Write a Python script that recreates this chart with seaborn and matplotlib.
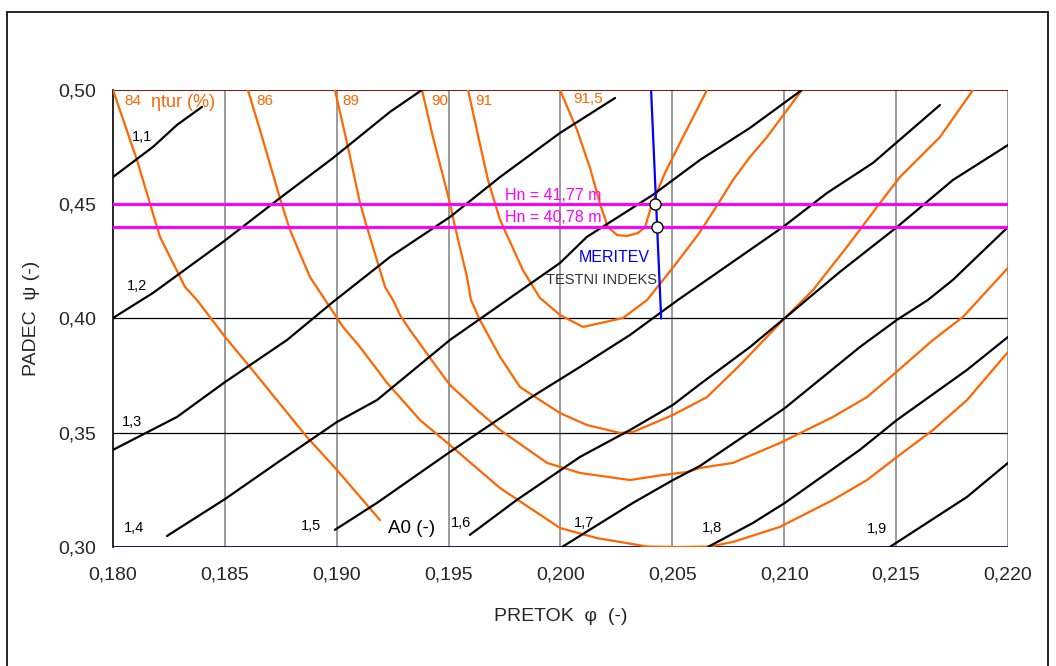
import matplotlib
matplotlib.use("Agg")
import matplotlib.pyplot as plt
import seaborn as sns
from matplotlib.lines import Line2D

# -------------- datos (pretok phi, padec psi)

# lineas de izkoristek turbine (naranja)
eta_84_phi = [0.18000, 0.18107, 0.18210, 0.18322, 0.18375, 0.18501, 0.18612, 0.18867, 0.19001, 0.19193]
eta_84_psi = [0.5000, 0.4694, 0.4357, 0.4138, 0.4081, 0.3919, 0.3788, 0.3481, 0.3337, 0.3118]

eta_86_phi = [0.18603, 0.18657, 0.18746, 0.18791, 0.18880, 0.19028, 0.19104, 0.19225, 0.19372, 0.19506,
              0.19730, 0.19998, 0.20163, 0.20387, 0.20534, 0.20668, 0.20771, 0.20981, 0.21218, 0.21370,
              0.21504, 0.21665, 0.21817, 0.22000]
eta_86_psi = [0.5000, 0.4825, 0.4527, 0.4387, 0.4182, 0.3963, 0.3875, 0.3718, 0.3556, 0.3446,
              0.3258, 0.3083, 0.3039, 0.3002, 0.3000, 0.3002, 0.3022, 0.3088, 0.3206, 0.3293,
              0.3394, 0.3512, 0.3643, 0.3853]

eta_89_phi = [0.18992, 0.19050, 0.19104, 0.19135, 0.19216, 0.19251, 0.19283, 0.19327, 0.19430, 0.19506,
              0.19627, 0.19730, 0.19940, 0.20087, 0.20311, 0.20458, 0.20565, 0.20624, 0.20771, 0.20981,
              0.21218, 0.21370, 0.21486, 0.21665, 0.21799, 0.22000]
eta_89_psi = [0.5000, 0.4751, 0.4505, 0.4400, 0.4138, 0.4081, 0.4015, 0.3950, 0.3810, 0.3709,
              0.3600, 0.3512, 0.3368, 0.3324, 0.3293, 0.3315, 0.3328, 0.3346, 0.3368, 0.3455,
              0.3569, 0.3656, 0.3753, 0.3906, 0.4007, 0.4221]

eta_90_phi = [0.19381, 0.19430, 0.19506, 0.19529, 0.19582, 0.19600, 0.19640, 0.19730, 0.19819, 0.19998,
              0.20118, 0.20266, 0.20324, 0.20503, 0.20655, 0.20802, 0.21003, 0.21129, 0.21280, 0.21428,
              0.21517, 0.21696, 0.21844]
eta_90_psi = [0.5000, 0.4794, 0.4505, 0.4400, 0.4182, 0.4081, 0.3993, 0.3832, 0.3700, 0.3586,
              0.3534, 0.3499, 0.3503, 0.3578, 0.3656, 0.3796, 0.4002, 0.4125, 0.4313, 0.4505,
              0.4619, 0.4794, 0.5000]

eta_91_phi = [0.19587, 0.19631, 0.19676, 0.19730, 0.19832, 0.19908, 0.19998, 0.20101, 0.20279, 0.20387,
              0.20512, 0.20624, 0.20704, 0.20771, 0.20847, 0.20923, 0.21079]
eta_91_psi = [0.5000, 0.4803, 0.4606, 0.4431, 0.4212, 0.4090, 0.4015, 0.3963, 0.4002, 0.4081,
              0.4234, 0.4379, 0.4501, 0.4606, 0.4707, 0.4794, 0.5000]

eta_915_phi = [0.19998, 0.20074, 0.20132, 0.20177, 0.20212, 0.20253, 0.20297, 0.20346, 0.20378, 0.20409,
               0.20467, 0.20534, 0.20655]
eta_915_psi = [0.5000, 0.4825, 0.4659, 0.4501, 0.4400, 0.4365, 0.4361, 0.4374, 0.4400, 0.4501,
               0.4637, 0.4768, 0.5000]

# lineas odprtja A0 (crna)
a0_11_phi = [0.18000, 0.18179, 0.18286, 0.18398]
a0_11_psi = [0.4619, 0.4751, 0.4847, 0.4926]

a0_12_phi = [0.18000, 0.18179, 0.18492, 0.18746, 0.18983, 0.19238, 0.19381]
a0_12_psi = [0.4002, 0.4112, 0.4335, 0.4527, 0.4702, 0.4904, 0.5000]

a0_13_phi = [0.18000, 0.18286, 0.18501, 0.18778, 0.18983, 0.19238, 0.19506, 0.19730, 0.19998, 0.20244]
a0_13_psi = [0.3425, 0.3569, 0.3722, 0.3906, 0.4072, 0.4269, 0.4444, 0.4619, 0.4812, 0.4965]

a0_14_phi = [0.18241, 0.18501, 0.18733, 0.19001, 0.19180, 0.19506, 0.19998, 0.20118, 0.20413, 0.20624,
             0.20847, 0.21079]
a0_14_psi = [0.3048, 0.3210, 0.3368, 0.3547, 0.3643, 0.3906, 0.4243, 0.4357, 0.4541, 0.4694,
             0.4834, 0.5000]

a0_15_phi = [0.18992, 0.19180, 0.19506, 0.19864, 0.20087, 0.20311, 0.20525, 0.20847, 0.20994, 0.21191,
             0.21397, 0.21696]
a0_15_psi = [0.3075, 0.3193, 0.3416, 0.3652, 0.3788, 0.3928, 0.4081, 0.4300, 0.4400, 0.4549,
             0.4681, 0.4934]

a0_16_phi = [0.19595, 0.19805, 0.20087, 0.20311, 0.20503, 0.20624, 0.20847, 0.21003, 0.21249, 0.21504,
             0.21754, 0.22000]
a0_16_psi = [0.3053, 0.3206, 0.3394, 0.3512, 0.3622, 0.3713, 0.3875, 0.4002, 0.4204, 0.4400,
             0.4606, 0.4759]

a0_17_phi = [0.20007, 0.20324, 0.20503, 0.20624, 0.20847, 0.21003, 0.21338, 0.21504, 0.21642, 0.21754, 0.22000]
a0_17_psi = [0.3000, 0.3193, 0.3293, 0.3355, 0.3503, 0.3608, 0.3875, 0.3994, 0.4081, 0.4169, 0.4400]

a0_18_phi = [0.20659, 0.20860, 0.21003, 0.21338, 0.21504, 0.21817, 0.22000]
a0_18_psi = [0.3000, 0.3105, 0.3193, 0.3425, 0.3556, 0.3775, 0.3919]

a0_19_phi = [0.21472, 0.21817, 0.22000]
a0_19_psi = [0.3000, 0.3219, 0.3368]

# meritev (modra) in tocki pri Hn
meritev_phi = [0.20405, 0.20450]
meritev_psi = [0.5000, 0.4000]
tocke_phi = [0.20422, 0.20431]
tocke_psi = [0.4500, 0.4400]
hn_psi = [0.4500, 0.4400]
hn_labels = ["Hn = 41,77 m", "Hn = 40,78 m"]

x_ticks = [0.180, 0.185, 0.190, 0.195, 0.200, 0.205, 0.210, 0.215, 0.220]
x_labels = ["0,180", "0,185", "0,190", "0,195", "0,200", "0,205", "0,210", "0,215", "0,220"]
y_ticks = [0.30, 0.35, 0.40, 0.45, 0.50]
y_labels = ["0,30", "0,35", "0,40", "0,45", "0,50"]

# -------------- grafica

sns.set_style("white")
plt.rcParams["font.family"] = ["Liberation Sans", "DejaVu Sans"]

fig, ax = plt.subplots(figsize=(10.56, 6.66), dpi=100)
fig.subplots_adjust(left=0.1070, right=0.9545, bottom=0.1787, top=0.8649)

naranja = "#FF6600"

# mreza
for xt in x_ticks[1:]:
    ax.axvline(xt, color="#808080", lw=1.1, zorder=1)
for yt in [0.35, 0.40]:
    ax.axhline(yt, color="black", lw=0.9, zorder=1)
ax.axhline(0.50, color="#800000", lw=1.3, zorder=1)
ax.axhline(0.30, color="#000080", lw=1.3, zorder=1)

# izkoristek
for phi, psi in [(eta_84_phi, eta_84_psi), (eta_86_phi, eta_86_psi), (eta_89_phi, eta_89_psi),
                 (eta_90_phi, eta_90_psi), (eta_91_phi, eta_91_psi), (eta_915_phi, eta_915_psi)]:
    sns.lineplot(x=phi, y=psi, color=naranja, lw=1.6, sort=False, estimator=None, ax=ax, zorder=3)

# odprtje
for phi, psi in [(a0_11_phi, a0_11_psi), (a0_12_phi, a0_12_psi), (a0_13_phi, a0_13_psi),
                 (a0_14_phi, a0_14_psi), (a0_15_phi, a0_15_psi), (a0_16_phi, a0_16_psi),
                 (a0_17_phi, a0_17_psi), (a0_18_phi, a0_18_psi), (a0_19_phi, a0_19_psi)]:
    sns.lineplot(x=phi, y=psi, color="black", lw=1.6, sort=False, estimator=None, ax=ax, zorder=3)

# Hn
for h in hn_psi:
    ax.axhline(h, color="#FF00FF", lw=2.2, zorder=4)

sns.lineplot(x=meritev_phi, y=meritev_psi, color="#0000FF", lw=1.6, sort=False, estimator=None, ax=ax, zorder=5)
ax.plot(tocke_phi, tocke_psi, "o", ms=8, mfc="white", mec="black", mew=1.0, zorder=6)

# napisi
ax.text(0.18089, 0.4952, "84", color=naranja, fontsize=11, ha="center", va="center")
ax.text(0.18313, 0.4947, "ηtur (%)", color=naranja, fontsize=13, ha="center", va="center")
ax.text(0.18679, 0.4952, "86", color=naranja, fontsize=11, ha="center", va="center")
ax.text(0.19064, 0.4952, "89", color=naranja, fontsize=11, ha="center", va="center")
ax.text(0.19461, 0.4952, "90", color=naranja, fontsize=11, ha="center", va="center")
ax.text(0.19658, 0.4950, "91", color=naranja, fontsize=11, ha="center", va="center")
ax.text(0.20123, 0.4961, "91,5", color=naranja, fontsize=11, ha="center", va="center")

for txt, px, py in [("1,1", 0.18130, 0.4794), ("1,2", 0.18109, 0.4142), ("1,3", 0.18085, 0.3547),
                    ("1,4", 0.18094, 0.3083), ("1,5", 0.18885, 0.3092), ("1,6", 0.19555, 0.3105),
                    ("1,7", 0.20105, 0.3105), ("1,8", 0.20677, 0.3083), ("1,9", 0.21414, 0.3079)]:
    ax.text(px, py, txt, color="black", fontsize=10.5, ha="center", va="center")

ax.text(0.19336, 0.3079, "A0 (-)", color="black", fontsize=13.5, ha="center", va="center")
ax.text(0.19752, 0.4540, hn_labels[0], color="#FF00FF", fontsize=11.5, ha="left", va="center")
ax.text(0.19752, 0.4444, hn_labels[1], color="#FF00FF", fontsize=11.5, ha="left", va="center")
ax.text(0.20239, 0.4269, "MERITEV", color="#0000FF", fontsize=11.5, ha="center", va="center")
ax.text(0.20185, 0.4169, "TESTNI INDEKS", color="#333333", fontsize=10.5, ha="center", va="center")

ax.set_xlim(0.180, 0.220)
ax.set_ylim(0.30, 0.50)
ax.set_xticks(x_ticks)
ax.set_xticklabels(x_labels)
ax.set_yticks(y_ticks)
ax.set_yticklabels(y_labels)
ax.tick_params(axis="both", direction="out", length=6, width=1, color="#404040", labelsize=14, pad=6)
ax.tick_params(axis="x", pad=8)

for s in ["top", "right", "bottom"]:
    ax.spines[s].set_visible(False)
ax.spines["left"].set_color("black")
ax.spines["left"].set_linewidth(1.2)

ax.set_xlabel("PRETOK  φ  (-)", fontsize=14)
ax.set_ylabel("PADEC  ψ (-)", fontsize=14)
ax.xaxis.set_label_coords(0.5, -0.133)
ax.yaxis.set_label_coords(-0.082, 0.5)

# okvir slike
for xs, ys in [([7 / 1056, 7 / 1056], [0, 1 - 12 / 666]), ([7 / 1056, 1048 / 1056], [1 - 12 / 666, 1 - 12 / 666]),
               ([1048 / 1056, 1048 / 1056], [0, 1 - 12 / 666])]:
    fig.add_artist(Line2D(xs, ys, color="black", lw=1.2, transform=fig.transFigure))

fig.savefig("out.png", dpi=100)
